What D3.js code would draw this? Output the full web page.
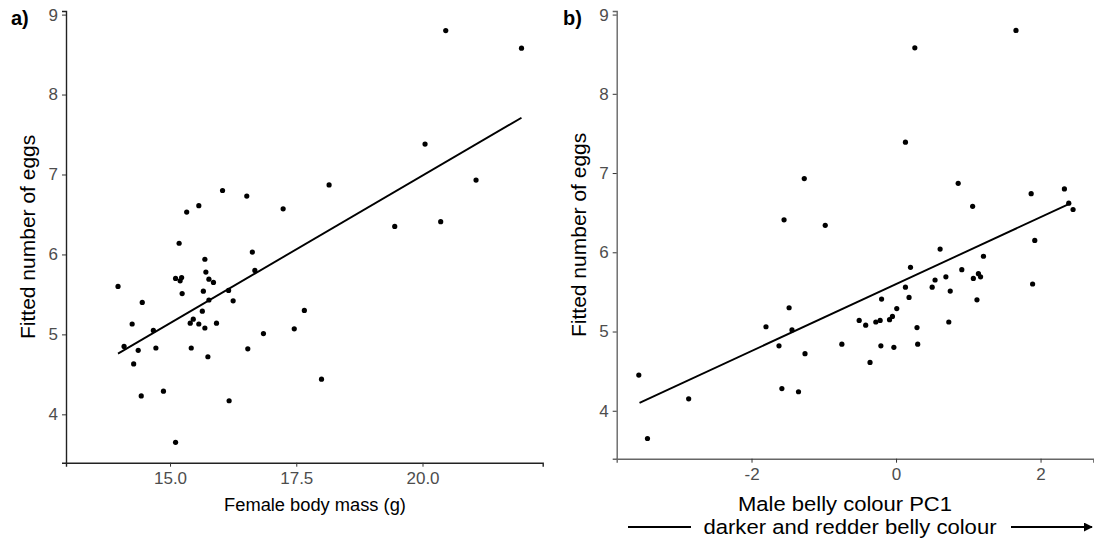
<!DOCTYPE html>
<html>
<head>
    <script src="https://d3js.org/d3.v7.min.js"></script>
    <style>
        body {
            margin: 0;
            background-color: white;
        }

        svg {
            display: block;
            font-family: "Liberation Sans", Arial, sans-serif;
        }

        .tick text {
            fill: #4d4d4d;
            font-size: 17px;
        }

        .ytitle {
            font-size: 21px;
            fill: black;
        }

        .xtitle {
            font-size: 18.3px;
            fill: black;
        }

        .btitle {
            font-size: 20.5px;
            fill: black;
        }

        .tag {
            font-size: 20px;
            font-weight: bold;
        }
    </style>
</head>
<body>
    <div id="graph"></div>
    <script>
        // panel a: female body mass vs fitted eggs
        const massA = [16.04, 15.57, 15.33, 15.18, 15.69, 13.97, 15.71, 15.11, 15.23, 15.20,
            15.77, 15.86, 15.24, 15.66, 14.45, 15.77, 16.16, 16.25, 15.64, 14.25,
            14.67, 15.46, 15.40, 15.57, 15.69, 15.92, 14.09, 14.37, 14.72, 15.42,
            14.28, 15.75, 14.43, 14.87, 16.17, 15.11, 16.63, 16.68, 16.85, 17.46,
            16.54, 16.52, 18.15, 17.24, 17.66, 18.00, 20.46, 21.96, 20.05, 21.06,
            19.45, 20.36]
        const eggsA = [6.80, 6.61, 6.53, 6.14, 5.94, 5.60, 5.78, 5.70, 5.71, 5.67,
            5.69, 5.65, 5.51, 5.54, 5.40, 5.43, 5.55, 5.42, 5.29, 5.13,
            5.05, 5.19, 5.14, 5.13, 5.08, 5.14, 4.85, 4.80, 4.83, 4.83,
            4.63, 4.72, 4.23, 4.29, 4.17, 3.65, 6.03, 5.80, 5.01, 5.07,
            4.82, 6.73, 6.87, 6.57, 5.30, 4.44, 8.80, 8.58, 7.38, 6.93,
            6.35, 6.41]
        const fitAx = [13.97, 21.96]
        const fitAy = [4.76, 7.71]

        // panel b: male belly colour PC1 vs fitted eggs
        const colourB = [-3.56, -3.44, -2.87, -1.80, -1.48, -1.44, -1.62, -1.26, -1.58, -1.35,
            -1.27, -1.55, -0.98, 1.66, 0.26, 0.13, 0.86, 1.87, 2.33, 1.06,
            2.39, 2.45, 1.92, 0.61, 0.20, 0.13, 0.18, -0.20, 0.01, -0.09,
            -0.05, -0.51, -0.42, -0.28, -0.22, 0.29, -0.75, -0.21, -0.03, 0.30,
            -0.36, 1.21, 0.91, 0.69, 1.07, 1.14, 1.17, 0.54, 0.50, 0.75,
            1.89, 1.12, 0.73]
        const eggsB = [4.45, 3.65, 4.15, 5.06, 5.30, 5.02, 4.82, 4.72, 4.28, 4.24,
            6.93, 6.41, 6.34, 8.80, 8.58, 7.39, 6.87, 6.74, 6.80, 6.58,
            6.62, 6.54, 6.15, 6.04, 5.81, 5.56, 5.43, 5.41, 5.29, 5.15,
            5.19, 5.14, 5.08, 5.12, 5.14, 5.05, 4.84, 4.82, 4.80, 4.84,
            4.61, 5.95, 5.78, 5.69, 5.67, 5.73, 5.69, 5.65, 5.56, 5.51,
            5.60, 5.40, 5.12]
        const fitBx = [-3.55, 2.42]
        const fitBy = [4.10, 6.62]

        const ticksY = [4, 5, 6, 7, 8, 9]
        const ticksAx = [15, 17.5, 20]
        const ticksBx = [-2, 0, 2]

        const w = 1094
        const h = 541
        const yDomain = [3.395, 9.045]

        const svg = d3.select('#graph')
            .append('svg')
            .attr('width', w)
            .attr('height', h)

        function panel(opt) {
            const x = d3.scaleLinear().domain(opt.xDomain).range([opt.left, opt.right])
            const y = d3.scaleLinear().domain(yDomain).range([opt.bottom, opt.top])
            const g = svg.append('g')

            const xAxis = g.append('g')
                .attr('transform', `translate(0, ${opt.bottom})`)
                .call(d3.axisBottom(x).tickValues(opt.xTicks).tickSizeOuter(0)
                    .tickSize(4).tickPadding(5).tickFormat(opt.xFormat))
            const yAxis = g.append('g')
                .attr('transform', `translate(${opt.left}, 0)`)
                .call(d3.axisLeft(y).tickValues(ticksY).tickSizeOuter(0)
                    .tickSize(4).tickPadding(4).tickFormat(d3.format('d')))
            ;[xAxis, yAxis].forEach(a => {
                a.attr('font-family', null).attr('font-size', null)
                a.select('.domain').attr('stroke', opt.axisColor).attr('stroke-width', 1.4)
                a.selectAll('.tick line').attr('stroke', '#333')
            })

            const pts = d3.zip(opt.xs, opt.ys)
            g.selectAll('circle')
                .data(pts)
                .enter()
                .append('circle')
                .attr('cx', d => x(d[0]))
                .attr('cy', d => y(d[1]))
                .attr('r', 2.6)
                .attr('fill', 'black')

            g.append('path')
                .datum(d3.zip(opt.fitX, opt.fitY))
                .attr('d', d3.line().x(d => x(d[0])).y(d => y(d[1])))
                .attr('stroke', 'black')
                .attr('stroke-width', 1.9)
                .attr('fill', 'none')

            g.append('text')
                .attr('class', 'ytitle')
                .attr('transform', `translate(${opt.left - 31}, ${(opt.top + opt.bottom) / 2}) rotate(-90)`)
                .attr('text-anchor', 'middle')
                .text('Fitted number of eggs')

            g.append('text')
                .attr('class', 'tag')
                .attr('x', opt.tagX)
                .attr('y', 25)
                .text(opt.tag)
            return g
        }

        const gA = panel({
            xDomain: [12.94, 22.38], left: 66, right: 542.7, top: 11, bottom: 462.7,
            xTicks: ticksAx, xFormat: d3.format('.1f'), xs: massA, ys: eggsA,
            fitX: fitAx, fitY: fitAy, tag: 'a)', tagX: 11, axisColor: '#222'
        })
        gA.append('text')
            .attr('class', 'xtitle')
            .attr('x', 315)
            .attr('y', 511)
            .attr('text-anchor', 'middle')
            .text('Female body mass (g)')

        const gB = panel({
            xDomain: [-3.866, 2.73], left: 616.7, right: 1093.3, top: 11, bottom: 458.7,
            xTicks: ticksBx, xFormat: d => String(d), xs: colourB, ys: eggsB,
            fitX: fitBx, fitY: fitBy, tag: 'b)', tagX: 563, axisColor: '#666'
        })
        gB.append('text')
            .attr('class', 'btitle')
            .attr('x', 845)
            .attr('y', 511)
            .attr('text-anchor', 'middle')
            .attr('textLength', 214)
            .attr('lengthAdjust', 'spacingAndGlyphs')
            .text('Male belly colour PC1')
        gB.append('text')
            .attr('class', 'btitle')
            .attr('x', 850)
            .attr('y', 534)
            .attr('text-anchor', 'middle')
            .attr('textLength', 293)
            .attr('lengthAdjust', 'spacingAndGlyphs')
            .text('darker and redder belly colour')

        svg.append('defs').append('marker')
            .attr('id', 'head')
            .attr('viewBox', '0 0 10 10')
            .attr('refX', 9).attr('refY', 5)
            .attr('markerWidth', 5).attr('markerHeight', 5)
            .attr('orient', 'auto')
            .append('path')
            .attr('d', 'M0,0 L10,5 L0,10 z')
            .attr('fill', 'black')

        gB.append('line')
            .attr('x1', 628).attr('x2', 691).attr('y1', 527).attr('y2', 527)
            .attr('stroke', 'black').attr('stroke-width', 1.8)
        gB.append('line')
            .attr('x1', 1011).attr('x2', 1092).attr('y1', 527).attr('y2', 527)
            .attr('stroke', 'black').attr('stroke-width', 1.8)
            .attr('marker-end', 'url(#head)')
    </script>
</body>
</html>
